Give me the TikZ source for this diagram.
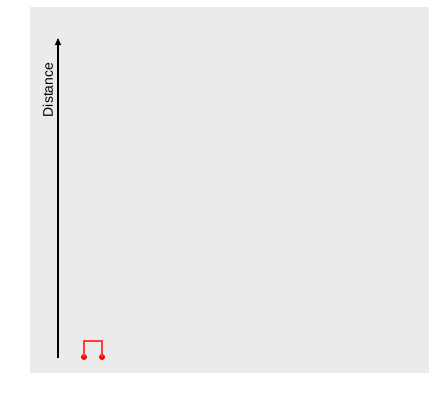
\documentclass[tikz,border=0pt]{standalone}
\usepackage{fontspec}
\setmainfont{Liberation Sans}
\usetikzlibrary{arrows.meta}
\definecolor{panel}{HTML}{EBEBEB}
\definecolor{dendro}{HTML}{FF3B3B}
\tikzset{
  leaf/.style={circle, fill=red, inner sep=0pt, minimum size=6bp},
  axisline/.style={line width=1.1bp, -{Triangle[length=7bp,width=6bp]}},
  link/.style={draw=dendro, line width=1.5bp}
}
\begin{document}
\begin{tikzpicture}[x=1bp,y=-1bp]
\useasboundingbox (0,0) rectangle (436,404);
\fill[panel] (30,7) rectangle (429,373);
\coordinate (axbot) at (58,358);
\coordinate (axtop) at (58,38);
\draw[axisline] (axbot) -- (axtop);
\node[rotate=90, font=\fontsize{14}{16}\selectfont] (lab) at (48,90) {Distance};
\node[leaf] (l1) at (84,357) {};
\node[leaf] (l2) at (102,357) {};
\draw[link] (l1.center) -- (84,341) -- (102,341) -- (l2.center);
\end{tikzpicture}
\end{document}
